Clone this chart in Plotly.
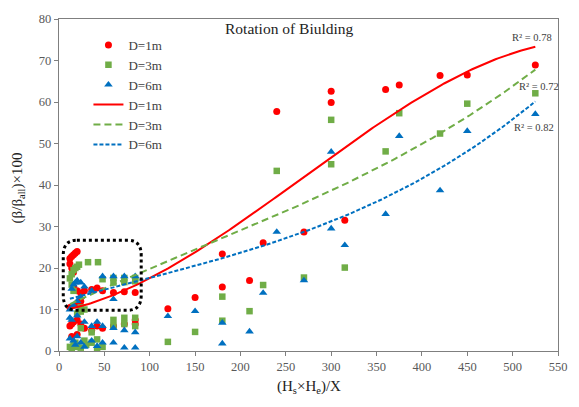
import numpy as np
import plotly.graph_objects as go

# ---------------- data ----------------
d1_x = [12, 14, 16, 18, 20, 12, 14, 16, 16, 20, 24, 28, 36, 42, 48, 60, 72, 84,
        12, 20, 24, 12, 14, 16, 20, 24, 28, 36, 42, 48, 60, 72, 84, 84, 14, 20,
        120, 150, 180, 180, 210, 225, 240, 270, 300, 300, 315, 360, 375, 420, 450, 525]
d1_y = [22.3, 22.8, 23.2, 23.6, 24.0, 21.0, 20.0, 19.0, 15.5, 14.5, 14.0, 14.5, 14.8, 15.2, 14.5, 14.1, 14.3, 14.1,
        10.5, 11.5, 12.0, 6.0, 6.5, 7.0, 7.5, 6.5, 5.5, 5.0, 6.0, 5.5, 6.0, 6.5, 6.5, 7.5, 3.5, 4.0,
        10.2, 12.9, 23.4, 15.4, 17.0, 26.1, 57.7, 28.7, 62.6, 59.9, 31.5, 63.0, 64.1, 66.4, 66.5, 68.9]

d3_x = [12, 14, 16, 18, 20, 22, 32, 43, 14, 16, 48, 60, 60, 72, 72, 84, 84, 24, 28, 20, 24,
        12, 14, 16, 18, 20, 24, 28, 30, 36, 42, 42, 48, 36, 24, 60, 72, 84, 60, 72, 84,
        120, 150, 180, 180, 210, 225, 240, 270, 300, 300, 315, 360, 375, 420, 450, 525]
d3_y = [17.5, 18.5, 19.5, 20.0, 20.3, 20.8, 21.4, 21.4, 16.0, 14.5, 17.3, 17.6, 16.5, 17.6, 16.6, 17.6, 16.8, 10.5, 10.0, 9.0, 9.5,
        1.0, 0.5, 1.5, 2.0, 1.0, 0.8, 2.5, 1.5, 2.0, 0.5, 2.8, 1.0, 4.5, 5.5, 7.5, 8.0, 8.0, 6.0, 6.5, 6.0,
        2.2, 4.6, 13.1, 7.3, 9.6, 15.9, 43.4, 17.7, 55.7, 45.0, 20.1, 48.1, 57.3, 52.4, 59.6, 62.1]

d6_x = [14, 16, 18, 20, 24, 28, 36, 48, 60, 72, 84, 60, 12, 16, 20, 24,
        12, 14, 20, 28, 36, 42, 48, 60, 72, 84,
        12, 16, 18, 20, 24, 28, 36, 42, 48, 60, 72, 84,
        120, 150, 180, 180, 210, 225, 240, 270, 300, 300, 315, 360, 375, 420, 450, 525]
d6_y = [15.0, 16.0, 16.5, 17.0, 16.5, 15.5, 14.5, 18.0, 18.0, 18.0, 18.0, 12.5, 10.0, 11.0, 12.0, 13.0,
        8.0, 7.5, 8.5, 7.0, 6.0, 7.0, 6.0, 5.5, 5.0, 4.5,
        3.0, 2.5, 1.5, 3.5, 2.0, 1.0, 2.5, 1.2, 2.0, 2.0, 0.8, 0.8,
        8.4, 9.6, 6.8, 1.8, 4.7, 14.0, 28.7, 17.0, 48.0, 29.5, 25.5, 33.0, 51.8, 38.7, 53.0, 57.1]

# polynomial trend-line coefficients (constant, x, x^2, x^3)
trend_d1 = [9.5418, 0.041329, 4.3899e-4, -5.455e-7]
trend_d3 = [10.059, 0.10438, -8.519e-5, 1.826e-7]
trend_d6 = [11.888, 0.059857, -4.6097e-5, 2.0407e-7]
r2_labels = ["R² = 0.78", "R² = 0.72", "R² = 0.82"]

series_names = ["D=1m", "D=3m", "D=6m"]

# ---------------- figure ----------------
RED, GREEN, BLUE = "#FF0000", "#70AD47", "#0070C0"
SERIF = "Liberation Serif, Times New Roman, serif"
TXT = "#404040"
AX = "#7F7F7F"

fig = go.Figure()
fig.add_trace(go.Scatter(x=d1_x, y=d1_y, mode="markers", name=series_names[0],
                         marker=dict(symbol="circle", size=7, color=RED)))
fig.add_trace(go.Scatter(x=d3_x, y=d3_y, mode="markers", name=series_names[1],
                         marker=dict(symbol="square", size=6.5, color=GREEN)))
fig.add_trace(go.Scatter(x=d6_x, y=d6_y, mode="markers", name=series_names[2],
                         marker=dict(symbol="triangle-up", size=7.5, color=BLUE)))


def poly(c, xs):
    return c[0] + c[1] * xs + c[2] * xs ** 2 + c[3] * xs ** 3


for xs_src, coef, name, col, dash in [
    (d1_x, trend_d1, series_names[0], RED, "solid"),
    (d3_x, trend_d3, series_names[1], GREEN, "7px,4px"),
    (d6_x, trend_d6, series_names[2], BLUE, "4px,2px"),
]:
    xs = np.linspace(min(xs_src), max(xs_src), 200)
    fig.add_trace(go.Scatter(x=xs, y=poly(coef, xs), mode="lines", name=name,
                             line=dict(color=col, width=2, dash=dash), hoverinfo="skip"))

# R^2 labels
r2_pos = [(521.5, 75.6), (528.9, 63.7), (523.4, 53.8)]
for (xx, yy), txt in zip(r2_pos, r2_labels):
    fig.add_annotation(x=xx, y=yy, xref="x", yref="y", text=txt, showarrow=False,
                       xanchor="center", yanchor="middle",
                       font=dict(family=SERIF, size=10.5, color=TXT))

# rounded dotted box around the cluster
x0, x1, y0, y1 = 4.7, 90.6, 9.8, 26.7
rx, ry = 15, 3.6
path = (f"M {x0+rx},{y1} L {x1-rx},{y1} Q {x1},{y1} {x1},{y1-ry} "
        f"L {x1},{y0+ry} Q {x1},{y0} {x1-rx},{y0} L {x0+rx},{y0} "
        f"Q {x0},{y0} {x0},{y0+ry} L {x0},{y1-ry} Q {x0},{y1} {x0+rx},{y1} Z")
fig.add_shape(type="path", path=path, xref="x", yref="y",
              line=dict(color="black", width=3, dash="dot"))

# title and axis titles
fig.add_annotation(x=0.462, y=0.97, xref="paper", yref="paper", text="Rotation of Biulding",
                   xanchor="center", yanchor="middle",
                   showarrow=False, font=dict(family=SERIF, size=15.5, color="#222222"))
fig.add_annotation(x=0.5, y=-0.108, xref="paper", yref="paper",
                   xanchor="center", yanchor="middle",
                   text="(H<sub>s</sub>×H<sub>e</sub>)/X", showarrow=False,
                   font=dict(family=SERIF, size=15, color="#222222"))
fig.add_annotation(x=-0.082, y=0.49, xref="paper", yref="paper", textangle=-90,
                   xanchor="center", yanchor="middle",
                   text="(β/β<sub>all</sub>)×100", showarrow=False,
                   font=dict(family=SERIF, size=15, color="#222222"))

axis_common = dict(showline=True, linecolor=AX, linewidth=1.3, mirror=True,
                   ticks="outside", ticklen=4, tickcolor=AX, tickwidth=1.3,
                   showgrid=False, zeroline=False,
                   tickfont=dict(family=SERIF, size=12.5, color="#595959"))
fig.update_xaxes(range=[0, 550], tick0=0, dtick=50, **axis_common)
fig.update_yaxes(range=[0, 80], tick0=0, dtick=10, **axis_common)

fig.update_layout(
    width=579, height=407,
    margin=dict(l=59, r=18, t=13, b=56),
    paper_bgcolor="white", plot_bgcolor="white",
    showlegend=True,
    legend=dict(x=0.059, y=0.967, xanchor="left", yanchor="top",
                bgcolor="rgba(0,0,0,0)", borderwidth=0,
                font=dict(family=SERIF, size=13, color=TXT)),
)

fig.write_html("out.html")
